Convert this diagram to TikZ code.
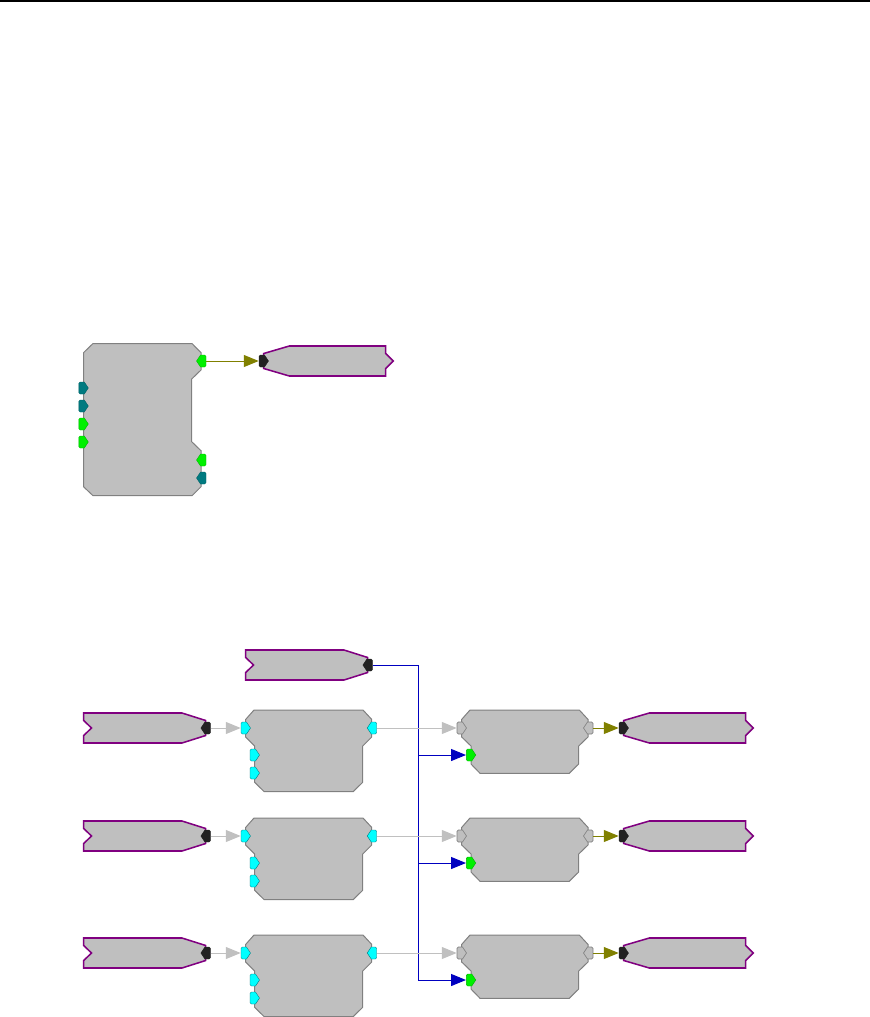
\documentclass[tikz,border=0pt]{standalone}
\usetikzlibrary{arrows.meta}
\definecolor{blockgray}{HTML}{BFBFBF}
\definecolor{edgegray}{HTML}{808080}
\definecolor{wiregray}{HTML}{C0C0C0}
\definecolor{wireolive}{HTML}{808000}
\definecolor{wireblue}{HTML}{0000C0}
\definecolor{rim}{HTML}{800080}
\definecolor{portteal}{HTML}{007A80}
\definecolor{portgreen}{HTML}{00F000}
\definecolor{portcyan}{HTML}{00FFFF}
\definecolor{portblack}{HTML}{222222}
\tikzset{
  block/.style={fill=blockgray,draw=edgegray,line width=0.75pt,line join=miter},
  ionode/.style={fill=blockgray,draw=rim,line width=1.15pt,line join=miter},
  portbox/.style={inner sep=0pt,minimum width=7.1pt,minimum height=9pt},
  pteal/.style={fill=portteal,draw=portteal!80!black,line width=0.3pt},
  pgreen/.style={fill=portgreen,draw=portgreen!75!black,line width=0.3pt},
  pcyan/.style={fill=portcyan,draw=portteal,line width=0.3pt},
  pblack/.style={fill=portblack,draw=portblack,line width=0.3pt},
  pgray/.style={fill=blockgray,draw=edgegray,line width=0.5pt},
  wire/.style={line width=0.75pt,-{Triangle[length=11.2pt,width=9pt]}},
  wgray/.style={wire,color=wiregray},
  wolive/.style={wire,color=wireolive},
  wblue/.style={wire,color=wireblue},
}
% right-pointing port: name, x, y, style
\newcommand{\portR}[4]{%
  \node[portbox] (#1) at (#2,#3) {};
  \path[#4] (#2-4.7,#3-4.6) -- (#2-3.3,#3-6) -- (#2+0.8,#3-6) -- (#2+4.8,#3) -- (#2+0.8,#3+6) -- (#2-3.3,#3+6) -- (#2-4.7,#3+4.6) -- cycle;}
% left-pointing port
\newcommand{\portL}[4]{%
  \node[portbox] (#1) at (#2,#3) {};
  \path[#4] (#2+4.7,#3-4.6) -- (#2+3.3,#3-6) -- (#2-0.8,#3-6) -- (#2-4.8,#3) -- (#2-0.8,#3+6) -- (#2+3.3,#3+6) -- (#2+4.7,#3+4.6) -- cycle;}
% source shape, notch left, port right: left x, centre y
\newcommand{\srcshape}[2]{%
  \path[ionode] (#1,#2-15) -- (#1+98.3,#2-15) -- (#1+122,#2-7.5) -- (#1+122,#2+7.5)
    -- (#1+98.3,#2+15) -- (#1,#2+15) -- (#1,#2+7.5) -- (#1+7.8,#2) -- (#1,#2-7.5) -- cycle;}
% sink shape, point right: left x, centre y
\newcommand{\snkshape}[2]{%
  \path[ionode] (#1,#2-7.5) -- (#1+25.6,#2-15) -- (#1+122,#2-15) -- (#1+122,#2-7.5)
    -- (#1+129.6,#2) -- (#1+122,#2+7.5) -- (#1+122,#2+15) -- (#1+25.6,#2+15) -- (#1,#2+7.5) -- cycle;}
% middle block: centre y of first port
\newcommand{\midblock}[1]{%
  \path[block] (254,#1-18) -- (363,#1-18) -- (371.7,#1-8.6) -- (371.7,#1+9) -- (362.7,#1+18)
    -- (362.7,#1+54.3) -- (353.3,#1+63.5) -- (264,#1+63.5) -- (254.7,#1+54.3) -- (254.7,#1+18)
    -- (245.7,#1+9) -- (245.7,#1-8.6) -- cycle;}
% right block
\newcommand{\rgtblock}[1]{%
  \path[block] (470,#1-18) -- (579.3,#1-18) -- (588,#1-8.6) -- (588,#1+9) -- (578.7,#1+18)
    -- (578.7,#1+36) -- (569.3,#1+45.3) -- (480,#1+45.3) -- (471,#1+36) -- (471,#1+18)
    -- (461.7,#1+9) -- (461.7,#1-8.6) -- cycle;}
\begin{document}
\begin{tikzpicture}[x=0.75pt,y=-0.75pt]
\useasboundingbox (0,0) rectangle (870,1017);
\fill[black] (0,0) rectangle (870,1.5);

% upper group
\path[block] (93,343.5) -- (192,343.5) -- (201,352.7) -- (201,370) -- (191.7,379) -- (191.7,441.7)
  -- (201,450.7) -- (201,486.7) -- (192,495.7) -- (93,495.7) -- (83.5,486.7) -- (83.5,352.7) -- cycle;
\snkshape{263.7}{361}
\portL{Uout}{201.3}{361}{pgreen}
\portR{Ua}{83.5}{388}{pteal}
\portR{Ub}{83.5}{406}{pteal}
\portR{Uc}{83.5}{424}{pgreen}
\portR{Ud}{83.5}{442}{pgreen}
\portL{Ue}{201.3}{460}{pgreen}
\portL{Uf}{201.3}{478}{pteal}
\portR{Uin}{263.7}{361}{pblack}
\draw[wolive] (Uout.east) -- (Uin.west);

% lower group: shared source and its wires
\srcshape{245.7}{665}
\portL{S}{367.7}{665}{pblack}
\coordinate (J1) at (418,755);
\coordinate (J2) at (418,863);
\coordinate (J3) at (418,980);

\foreach \r/\y in {1/728,2/836,3/953}{
  \srcshape{83.7}{\y}
  \snkshape{623.7}{\y}
  \midblock{\y}
  \rgtblock{\y}
  \portL{A\r}{205.7}{\y}{pblack}
  \portR{B\r}{245.7}{\y}{pcyan}
  \portR{C\r}{254.7}{\y+27}{pcyan}
  \portR{D\r}{254.7}{\y+45}{pcyan}
  \portL{E\r}{372}{\y}{pcyan}
  \portR{F\r}{461.7}{\y}{pgray}
  \portR{G\r}{471}{\y+27}{pgreen}
  \portL{H\r}{588.3}{\y}{pgray}
  \portR{I\r}{623.7}{\y}{pblack}
}
\draw[line width=0.75pt,wireblue] (S.east) -| (J3);
\foreach \r in {1,2,3}{
  \draw[wblue] (J\r) -- (G\r.west);
  \draw[wgray] (A\r.east) -- (B\r.west);
  \draw[wgray] (E\r.east) -- (F\r.west);
  \draw[wolive] (H\r.east) -- (I\r.west);
}
\end{tikzpicture}
\end{document}
